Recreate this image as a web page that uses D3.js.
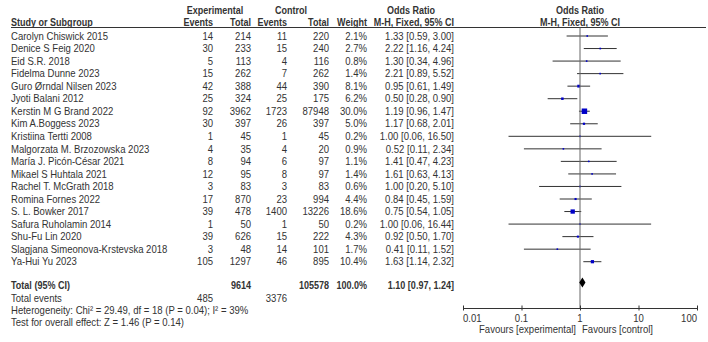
<!DOCTYPE html>
<html>
<head>
<meta charset="utf-8">
<script src="https://cdn.jsdelivr.net/npm/d3@7"></script>
<style>
  body { margin: 0; background: #fff; }
  text { font-family: "Liberation Sans", Arial, sans-serif; font-size: 10.5px; fill: #333; }
  .b { font-weight: bold; }
</style>
</head>
<body>
<script>
// 研究名
var studies = [
	"Carolyn Chiswick 2015", "Denice S Feig 2020", "Eid S.R. 2018", "Fidelma Dunne 2023",
	"Guro Ørndal Nilsen 2023", "Jyoti Balani 2012", "Kerstin M G Brand 2022", "Kim A.Boggess 2023",
	"Kristiina Tertti 2008", "Malgorzata M. Brzozowska 2023", "María J. Picón-César 2021",
	"Mikael S Huhtala 2021", "Rachel T. McGrath 2018", "Romina Fornes 2022", "S. L. Bowker 2017",
	"Safura Ruholamin 2014", "Shu-Fu Lin 2020", "Slagjana Simeonova-Krstevska 2018", "Ya-Hui Yu 2023"
];
// 各群のイベント数・総数
var expEvents  = [14, 30, 5, 15, 42, 25, 92, 30, 1, 4, 8, 12, 3, 17, 39, 1, 39, 3, 105];
var expTotal   = [214, 233, 113, 262, 388, 324, 3962, 397, 45, 35, 94, 95, 83, 870, 478, 50, 626, 48, 1297];
var ctrlEvents = [11, 15, 4, 7, 44, 25, 1723, 26, 1, 4, 6, 8, 3, 23, 1400, 1, 15, 14, 46];
var ctrlTotal  = [220, 240, 116, 262, 390, 175, 87948, 397, 45, 20, 97, 97, 83, 994, 13226, 50, 222, 101, 895];
// 重み(%)とオッズ比 [95%CI]
var weights = [2.1, 2.7, 0.8, 1.4, 8.1, 6.2, 30.0, 5.0, 0.2, 0.9, 1.1, 1.4, 0.6, 4.4, 18.6, 0.2, 4.3, 1.7, 10.4];
var ors     = [1.33, 2.22, 1.30, 2.21, 0.95, 0.50, 1.19, 1.17, 1.00, 0.52, 1.41, 1.61, 1.00, 0.84, 0.75, 1.00, 0.92, 0.41, 1.63];
var ciLow   = [0.59, 1.16, 0.34, 0.89, 0.61, 0.28, 0.96, 0.68, 0.06, 0.11, 0.47, 0.63, 0.20, 0.45, 0.54, 0.06, 0.50, 0.11, 1.14];
var ciHigh  = [3.00, 4.24, 4.96, 5.52, 1.49, 0.90, 1.47, 2.01, 16.50, 2.34, 4.23, 4.13, 5.10, 1.59, 1.05, 16.44, 1.70, 1.52, 2.32];
// 合計
var totalExp = 9614, totalCtrl = 105578, totalEventsExp = 485, totalEventsCtrl = 3376;
var totalOR = [1.10, 0.97, 1.24];
// 軸目盛
var axisTicks = [0.01, 0.1, 1, 10, 100];

var W = 708, H = 342;
var SX = 0.91;  // 元画像は文字が横に詰まっているので横方向だけ縮める
var SXB = 0.86; // 太字はもう少し詰める
var svg = d3.select("body").append("svg").attr("width", W).attr("height", H);

// 行の位置
var y = d3.scalePoint().domain(d3.range(studies.length)).range([36, 261.7]);
// 対数軸
var x = d3.scaleLog().domain([0.01, 100]).range([463, 697]);

// 列の右端位置
var col = { ee: 213, et: 251, ce: 287, ct: 329, w: 367, or: 454 };

function fmt2(v){ return v.toFixed(2); }
function ciText(i){ return fmt2(ors[i]) + " [" + fmt2(ciLow[i]) + ", " + fmt2(ciHigh[i]) + "]"; }

// テキスト配置 (ty は文字の縦中心)
function T(parent, tx, ty, s, anchor, bold){
	return parent.append("text")
		.attr("transform", "translate(" + tx + "," + ty + ") scale(" + (bold ? SXB : SX) + ",1)")
		.attr("dy", "0.35em")
		.attr("text-anchor", anchor || "start")
		.classed("b", !!bold)
		.text(s);
}

// ヘッダー
T(svg, 215, 10.5, "Experimental", "middle", true);
T(svg, 291, 10.5, "Control", "middle", true);
T(svg, 411, 10.5, "Odds Ratio", "middle", true);
T(svg, 580, 10.5, "Odds Ratio", "middle", true);
T(svg, 11, 22.5, "Study or Subgroup", "start", true);
T(svg, col.ee, 22.5, "Events", "end", true);
T(svg, col.et, 22.5, "Total", "end", true);
T(svg, col.ce, 22.5, "Events", "end", true);
T(svg, col.ct, 22.5, "Total", "end", true);
T(svg, col.w, 22.5, "Weight", "end", true);
T(svg, col.or, 22.5, "M-H, Fixed, 95% CI", "end", true);
T(svg, 580, 22.5, "M-H, Fixed, 95% CI", "middle", true);

svg.append("line").attr("x1", 11).attr("x2", 706).attr("y1", 27.5).attr("y2", 27.5)
	.attr("stroke", "#333").attr("stroke-width", 1);

// 各行
var rows = svg.selectAll(".row").data(d3.range(studies.length)).enter()
	.append("g").attr("class", "row")
	.attr("transform", function(i){ return "translate(0," + y(i) + ")"; });

rows.each(function(i){
	var g = d3.select(this);
	T(g, 11, 0, studies[i], "start");
	T(g, col.ee, 0, expEvents[i], "end");
	T(g, col.et, 0, expTotal[i], "end");
	T(g, col.ce, 0, ctrlEvents[i], "end");
	T(g, col.ct, 0, ctrlTotal[i], "end");
	T(g, col.w, 0, weights[i].toFixed(1) + "%", "end");
	T(g, col.or, 0, ciText(i), "end");
});

// 合計行
var ty = 285, tey = 298.5;
T(svg, 11, ty, "Total (95% CI)", "start", true);
T(svg, col.et, ty, totalExp, "end", true);
T(svg, col.ct, ty, totalCtrl, "end", true);
T(svg, col.w, ty, "100.0%", "end", true);
T(svg, col.or, ty, fmt2(totalOR[0]) + " [" + fmt2(totalOR[1]) + ", " + fmt2(totalOR[2]) + "]", "end", true);
T(svg, 11, tey, "Total events", "start");
T(svg, col.ee, tey, totalEventsExp, "end");
T(svg, col.ce, tey, totalEventsCtrl, "end");
T(svg, 11, 310.5, "Heterogeneity: Chi² = 29.49, df = 18 (P = 0.04); I² = 39%", "start");
T(svg, 11, 322, "Test for overall effect: Z = 1.46 (P = 0.14)", "start");

// 基準線 (OR = 1)
var axisY = 308;
svg.append("line").attr("x1", x(1)).attr("x2", x(1)).attr("y1", 27.5).attr("y2", axisY)
	.attr("stroke", "#666").attr("stroke-width", 1);

// 信頼区間
rows.append("line")
	.attr("x1", function(i){ return x(ciLow[i]); })
	.attr("x2", function(i){ return x(ciHigh[i]); })
	.attr("stroke", "#333").attr("stroke-width", 1);
// 点推定 (四角の大きさは重みの平方根)
function side(i){ return Math.max(1.6, Math.sqrt(weights[i])); }
rows.append("rect")
	.attr("x", function(i){ return x(ors[i]) - side(i) / 2; })
	.attr("y", function(i){ return -side(i) / 2; })
	.attr("width", side)
	.attr("height", side)
	.attr("fill", "#0000c8");

// 統合推定のダイヤ
var dy0 = 282.5;
svg.append("path")
	.attr("d", "M" + x(totalOR[1]) + "," + dy0 + "L" + x(totalOR[0]) + "," + (dy0 - 5) +
		"L" + x(totalOR[2]) + "," + dy0 + "L" + x(totalOR[0]) + "," + (dy0 + 5) + "Z")
	.attr("fill", "#000");

// 軸
var axis = svg.append("g").attr("transform", "translate(0," + axisY + ")")
	.call(d3.axisBottom(x).tickValues(axisTicks).tickSize(0).tickFormat(""));
axis.select(".domain").attr("stroke", "#333");
axis.selectAll(".tick line").attr("y1", -2.5).attr("y2", 2.5).attr("stroke", "#333");
axisTicks.forEach(function(d, i){
	var anchor = i === 0 ? "start" : (i === axisTicks.length - 1 ? "end" : "middle");
	T(svg, x(d), axisY + 10, String(d), anchor);
});

T(svg, 576, 329, "Favours [experimental]", "end");
T(svg, 582, 329, "Favours [control]", "start");
</script>
</body>
</html>
